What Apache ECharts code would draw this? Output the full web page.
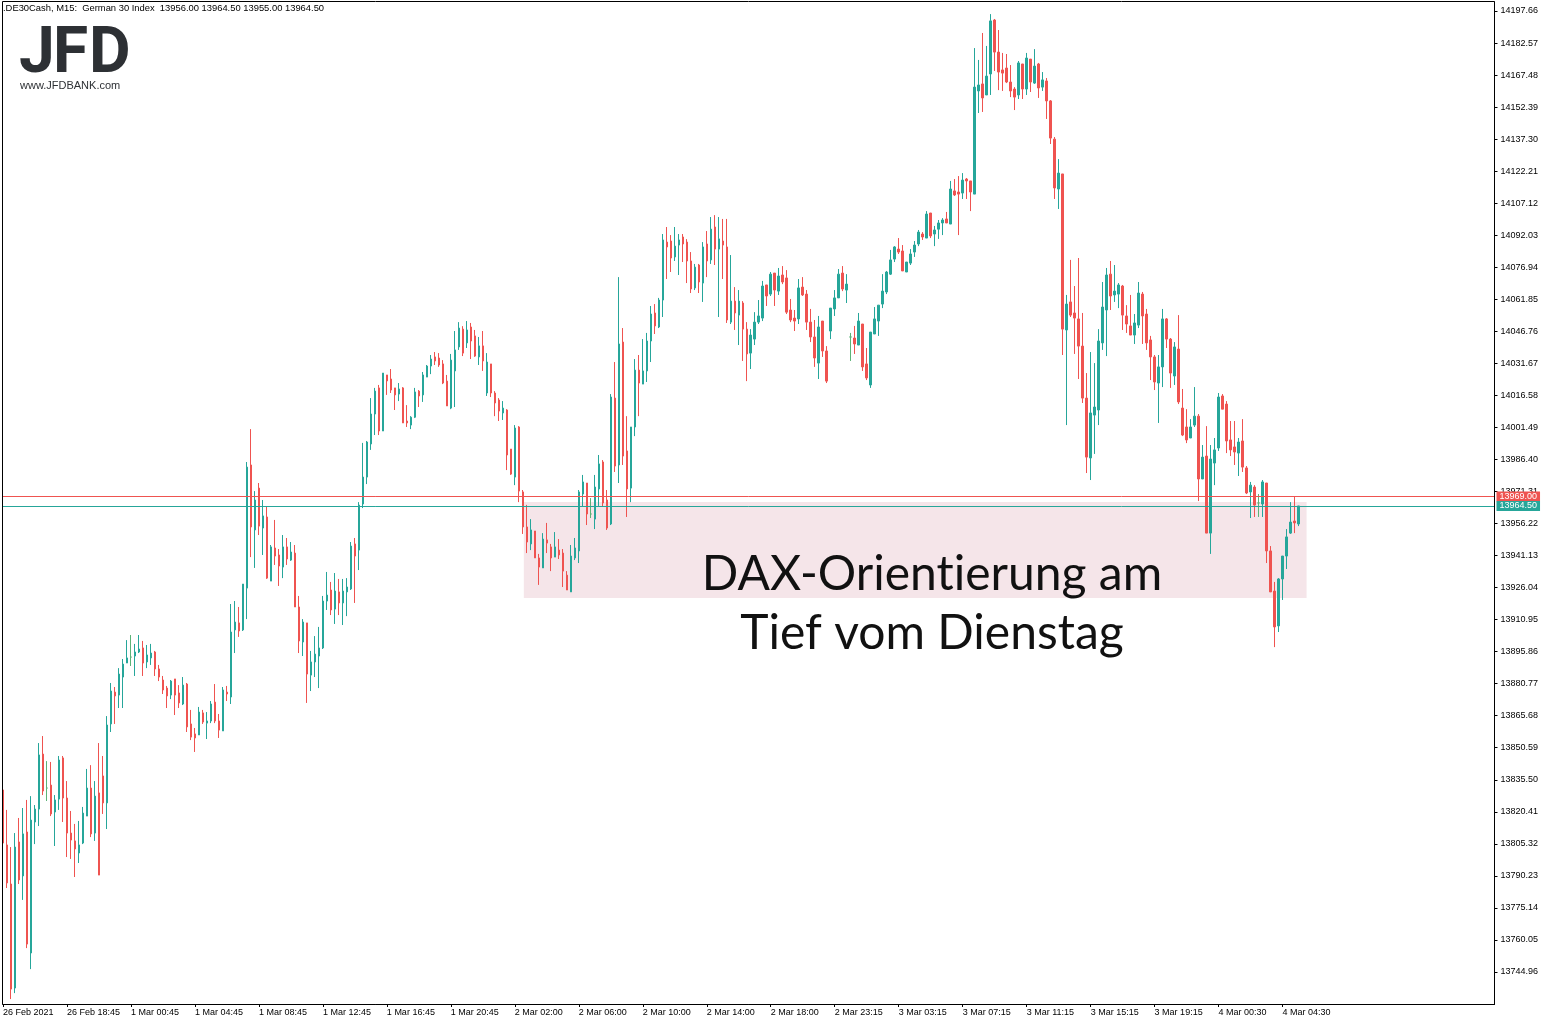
<!DOCTYPE html>
<html><head><meta charset="utf-8">
<script src="https://cdn.jsdelivr.net/npm/echarts@6/dist/echarts.min.js"></script>
<style>html,body{margin:0;padding:0;background:#fff;}#c{width:1552px;height:1025px;}</style>
</head><body><div id="c"></div>
<script>
const tickLabels = ["26 Feb 2021","26 Feb 18:45","1 Mar 00:45","1 Mar 04:45","1 Mar 08:45","1 Mar 12:45","1 Mar 16:45","1 Mar 20:45","2 Mar 02:00","2 Mar 06:00","2 Mar 10:00","2 Mar 14:00","2 Mar 18:00","2 Mar 23:15","3 Mar 03:15","3 Mar 07:15","3 Mar 11:15","3 Mar 15:15","3 Mar 19:15","4 Mar 00:30","4 Mar 04:30"];

const opens = [
13830.7,13804.8,13786.4,13737.4,13806.2,13790.2,13810.9,13753.9,13815.6,13821.7,
13847.6,13831.6,13833.0,13820.3,13826.4,13845.8,13826.9,13810.4,13806.7,13801.0,
13805.7,13818.4,13831.6,13810.4,13829.3,13837.3,13824.6,13861.8,13876.8,13875.4,
13883.9,13890.5,13893.3,13893.8,13895.7,13897.6,13891.0,13892.9,13895.7,13887.7,
13882.5,13878.7,13875.4,13883.0,13876.4,13871.2,13880.6,13861.8,13857.1,13856.6,
13867.0,13862.2,13863.2,13872.1,13863.2,13858.5,13876.8,13874.5,13906.1,13909.4,
13906.1,13925.8,13983.8,13953.2,13972.9,13954.1,13959.3,13929.1,13944.7,13941.4,
13935.7,13945.2,13939.0,13942.3,13916.9,13900.4,13909.4,13884.8,13891.0,13893.8,
13897.6,13919.7,13924.9,13915.9,13924.0,13918.8,13924.0,13925.4,13946.6,13943.7,
13965.4,13978.1,13993.7,14007.8,14020.1,13999.8,14026.2,14024.3,14020.1,14017.2,
14020.1,14004.5,14002.6,14006.3,14018.6,14016.8,14025.2,14030.4,14034.7,14034.2,
14031.4,14023.3,14010.6,14028.1,14039.4,14047.8,14041.3,14048.8,14044.6,14034.7,
14039.9,14017.7,14031.4,14017.7,14014.4,14008.3,14009.7,13991.3,13978.1,14001.7,
13971.1,13954.6,13946.6,13952.7,13940.0,13935.3,13948.5,13945.2,13940.4,13943.7,
13942.3,13931.9,13924.0,13940.0,13943.3,13970.1,13975.3,13960.7,13958.3,13972.5,
13985.2,13967.3,13956.0,14015.3,13983.8,14041.7,13990.4,13972.9,14001.7,14028.5,
14021.9,14028.1,14042.2,14055.4,14048.8,14061.5,14088.8,14089.3,14081.8,14087.4,
14091.2,14088.8,14079.9,14067.2,14078.0,14069.5,14087.9,14080.4,14095.9,14085.5,
14089.3,14086.5,14051.1,14061.0,14054.4,14060.1,14047.8,14036.5,14043.1,14051.1,
14053.0,14068.6,14064.3,14074.2,14065.7,14073.3,14071.9,14056.8,14053.0,14052.6,
14067.6,14064.3,14051.1,14044.1,14031.8,14051.6,14037.5,14046.9,14057.3,14062.5,
14074.2,14066.2,14044.1,14043.6,14040.3,14050.2,14031.4,14021.5,14045.5,14051.6,
14059.6,14065.3,14073.7,14080.8,14085.5,14084.6,14074.7,14078.9,14084.1,14087.9,
14092.6,14090.7,14102.5,14092.6,14094.9,14097.8,14099.7,14097.3,14112.9,14112.4,
14111.9,14118.5,14117.6,14111.4,14160.0,14163.3,14158.1,14168.0,14193.4,14178.3,
14169.9,14170.8,14164.2,14160.9,14158.1,14172.7,14160.9,14175.0,14163.7,14172.7,
14161.8,14164.7,14155.3,14137.3,14113.8,14120.9,14047.4,14060.6,14055.4,14052.6,
14039.8,14015.3,13987.1,14007.3,14009.7,14041.3,14056.8,14073.7,14063.9,14064.3,
14068.1,14054.0,14049.3,14045.0,14049.7,14064.3,14054.9,14042.7,14034.7,14022.4,
14030.0,14052.6,14043.1,14025.7,14038.4,14010.6,14001.7,13996.5,14002.6,14006.8,
13977.2,13988.0,13951.7,13984.7,13991.8,14016.3,14012.5,13995.6,13992.3,13989.4,
13995.1,13982.4,13971.1,13973.4,13965.9,13965.4,13975.3,13943.3,13924.4,13908.0,
13930.1,13940.9,13951.7,13957.4,13956.0];

const closes = [
13805.7,13786.9,13736.9,13803.8,13788.3,13810.0,13758.1,13816.5,13821.7,13847.2,
13830.2,13831.6,13819.4,13826.0,13844.8,13826.9,13810.4,13807.1,13802.9,13804.8,
13819.8,13831.6,13810.0,13827.8,13790.6,13824.6,13861.3,13877.3,13875.0,13885.3,
13890.0,13892.9,13893.3,13895.7,13897.1,13890.5,13894.3,13895.2,13887.7,13883.9,
13877.8,13875.0,13882.0,13875.4,13871.7,13880.1,13860.4,13855.6,13855.2,13867.4,
13862.7,13863.2,13871.2,13863.2,13858.9,13877.8,13875.9,13905.1,13909.8,13905.6,
13927.7,13982.8,13954.6,13967.3,13955.0,13959.8,13930.5,13945.2,13940.9,13936.2,
13945.2,13939.5,13942.8,13916.9,13900.9,13909.8,13885.3,13891.0,13894.7,13897.6,
13919.7,13922.5,13915.5,13924.4,13918.8,13924.4,13926.3,13945.6,13940.9,13964.9,
13978.1,13994.6,14007.8,14018.6,13999.8,14027.1,14023.4,14019.1,14016.8,14019.6,
14003.6,14003.6,14006.3,14018.2,14016.3,14026.2,14030.4,14033.7,14032.8,14030.9,
14022.4,14011.6,14033.2,14038.0,14048.3,14036.5,14047.4,14042.2,14035.1,14039.9,
14032.8,14032.3,14017.7,14013.0,14009.2,14010.6,13988.5,13979.5,14001.2,13971.5,
13954.6,13947.5,13953.2,13940.0,13935.7,13948.9,13947.0,13940.0,13945.2,13941.4,
13933.8,13924.9,13940.9,13944.7,13971.1,13975.8,13960.7,13960.7,13973.4,13984.3,
13965.9,13954.1,14015.8,13983.3,14040.8,13988.0,13972.5,14001.7,14028.5,14022.4,
14028.1,14042.2,14054.9,14049.3,14061.5,14089.8,14086.5,14081.3,14086.9,14089.8,
14087.9,14079.9,14066.7,14077.0,14070.0,14086.5,14079.9,14094.9,14085.5,14090.3,
14087.4,14052.1,14061.0,14055.4,14061.0,14047.8,14036.1,14045.0,14051.1,14054.0,
14068.1,14063.4,14073.7,14066.2,14072.8,14070.0,14055.8,14052.1,14051.6,14067.2,
14063.9,14051.1,14044.1,14034.2,14048.8,14037.5,14023.3,14057.7,14062.5,14073.7,
14066.7,14069.0,14044.1,14040.8,14051.6,14030.0,14024.8,14046.4,14052.6,14059.1,
14065.7,14074.7,14080.4,14086.5,14084.1,14075.2,14079.4,14083.2,14087.4,14093.5,
14091.2,14102.0,14091.7,14094.5,14097.8,14099.2,14097.8,14113.8,14111.0,14111.4,
14118.0,14117.6,14112.4,14161.8,14162.8,14156.7,14167.0,14193.0,14178.3,14168.9,
14168.4,14164.2,14160.0,14157.1,14173.2,14160.9,14175.5,14164.2,14171.7,14161.4,
14165.2,14155.3,14137.8,14114.3,14121.3,14047.8,14059.6,14054.4,14053.0,14039.8,
14015.3,13987.5,14008.3,14011.1,14042.2,14058.2,14073.3,14063.4,14065.7,14068.6,
14054.4,14050.2,14045.0,14050.7,14064.8,14054.0,14041.3,14034.7,14022.9,14030.0,
14052.6,14043.1,14027.1,14039.4,14013.5,13997.9,13995.6,14001.7,14006.8,13977.2,
13987.5,13951.7,13986.6,13990.9,14015.8,14010.1,13995.1,13990.9,13989.9,13994.6,
13982.8,13970.6,13974.3,13964.9,13965.9,13975.8,13943.3,13924.0,13907.5,13930.1,
13940.9,13949.9,13956.9,13956.5,13964.5];

const lows = [
13804.8,13784.5,13732.2,13735.0,13786.4,13778.9,13756.2,13746.3,13805.2,13813.7,
13828.3,13825.5,13818.4,13804.3,13821.3,13815.6,13799.1,13798.2,13789.7,13796.3,
13805.2,13818.4,13808.5,13806.7,13790.6,13819.4,13812.3,13858.0,13861.8,13869.3,
13869.3,13890.5,13889.1,13884.4,13895.2,13884.4,13888.1,13889.6,13884.4,13882.0,
13875.9,13869.3,13873.5,13866.0,13869.3,13870.7,13858.0,13854.2,13848.6,13856.6,
13861.8,13854.7,13862.2,13862.2,13855.2,13858.5,13872.6,13871.2,13895.2,13902.8,
13905.6,13911.2,13940.4,13935.3,13950.8,13941.4,13930.1,13929.1,13936.7,13926.8,
13930.5,13936.7,13938.6,13916.9,13895.2,13893.8,13871.7,13877.3,13883.9,13878.7,
13897.1,13915.5,13913.1,13908.9,13913.1,13908.4,13912.6,13924.9,13918.8,13934.3,
13963.5,13974.8,13990.9,13997.9,13997.9,13999.8,14016.8,14017.7,14009.7,14013.9,
14003.6,14001.7,14000.7,14005.9,14011.1,14013.5,14025.2,14026.6,14030.9,14030.0,
14021.9,14011.6,14010.1,14011.1,14038.0,14035.1,14038.9,14033.7,14034.7,14030.9,
14028.1,14016.3,14015.8,14006.8,14004.5,14005.0,13981.4,13979.1,13974.3,13966.3,
13951.3,13942.3,13943.7,13940.0,13927.3,13935.3,13942.3,13933.8,13940.4,13939.5,
13926.3,13924.9,13924.0,13939.0,13937.6,13964.0,13955.5,13958.8,13953.6,13964.5,
13964.0,13953.2,13955.5,13980.5,13975.3,13983.8,13959.3,13966.3,13997.4,14006.8,
14021.9,14022.9,14032.3,14045.5,14048.3,14053.5,14071.4,14074.7,14079.9,14073.3,
14079.4,14069.5,14064.8,14066.2,14064.8,14060.6,14072.3,14078.5,14078.0,14053.5,
14071.4,14050.7,14050.2,14047.4,14040.3,14032.8,14023.3,14029.0,14040.3,14050.2,
14051.6,14058.7,14063.4,14058.7,14063.9,14069.0,14054.9,14051.1,14046.9,14050.2,
14063.4,14047.4,14041.7,14030.0,14024.3,14034.7,14022.4,14043.1,14054.0,14062.5,
14065.7,14060.1,14032.8,14036.1,14040.3,14028.1,14023.8,14020.1,14045.5,14044.6,
14057.7,14064.3,14073.3,14079.4,14083.2,14075.2,14074.7,14078.0,14081.8,14086.9,
14089.8,14090.7,14090.7,14086.9,14090.3,14092.1,14097.8,14097.3,14110.5,14092.1,
14109.1,14109.1,14103.4,14111.4,14149.6,14150.1,14158.1,14158.1,14169.4,14160.4,
14160.0,14163.7,14157.1,14151.0,14156.2,14156.2,14158.1,14159.5,14163.3,14156.7,
14160.0,14146.8,14135.0,14109.1,14104.4,14035.6,14002.6,14053.5,14036.1,14024.3,
14013.0,13980.0,13976.7,13989.0,14002.6,14038.0,14035.1,14056.8,14060.6,14057.7,
14047.4,14046.0,14045.0,14040.8,14048.3,14040.8,14038.0,14023.8,14019.1,14003.6,
14020.5,14038.9,14020.1,14021.5,14012.5,13997.4,13994.1,13996.5,14001.7,13966.8,
13977.2,13951.7,13941.9,13974.3,13990.4,14010.1,13989.4,13988.0,13983.8,13978.6,
13980.5,13970.1,13958.8,13959.3,13959.3,13959.3,13937.6,13924.0,13898.0,13905.1,
13920.2,13934.8,13951.3,13951.7,13955.0];

const highs = [
13834.0,13821.3,13803.8,13810.4,13817.5,13822.2,13826.0,13827.8,13823.6,13852.8,
13856.1,13844.3,13843.9,13828.3,13846.7,13846.7,13834.9,13820.8,13814.7,13816.1,
13822.7,13840.6,13842.4,13834.9,13852.8,13846.7,13865.5,13881.1,13879.2,13888.1,
13892.4,13901.3,13903.7,13899.5,13903.7,13900.9,13899.0,13899.5,13896.2,13889.6,
13884.4,13879.7,13882.5,13883.0,13880.1,13883.9,13881.1,13868.4,13859.9,13869.8,
13868.4,13867.4,13872.6,13880.6,13866.5,13879.2,13879.7,13918.3,13919.7,13916.9,
13927.7,13985.2,14000.7,13971.5,13975.3,13967.3,13964.0,13946.1,13957.9,13944.2,
13950.8,13949.4,13947.5,13946.1,13922.1,13911.2,13909.4,13896.2,13903.2,13907.5,
13922.1,13933.4,13928.7,13932.9,13930.1,13930.1,13930.5,13947.5,13949.4,13966.3,
13994.2,13995.1,14015.3,14020.1,14021.5,14027.1,14026.2,14029.0,14020.1,14022.4,
14020.5,14012.0,14006.8,14020.1,14019.1,14027.6,14030.9,14035.6,14037.0,14036.5,
14033.2,14026.2,14036.1,14046.9,14051.1,14049.2,14051.6,14050.7,14047.4,14044.1,
14046.9,14036.5,14031.4,14018.6,14015.3,14013.9,14010.1,13991.3,14002.6,14002.1,
13972.0,13965.0,13958.3,13952.7,13941.9,13951.7,13956.5,13946.6,13952.2,13948.9,
13944.2,13933.8,13946.1,13949.4,13972.0,13979.1,13975.3,13968.2,13979.1,13988.5,
13986.1,13972.0,14017.2,14032.3,14072.3,14048.3,14006.8,14001.7,14033.7,14035.6,
14043.1,14046.0,14058.7,14059.6,14062.5,14092.6,14095.9,14092.1,14095.9,14092.6,
14092.6,14090.2,14084.1,14078.5,14078.5,14088.8,14094.0,14100.6,14101.5,14100.6,
14099.7,14099.7,14082.7,14067.6,14066.2,14061.0,14051.1,14047.8,14055.8,14061.5,
14070.5,14068.6,14074.7,14074.2,14076.6,14077.5,14075.6,14062.0,14056.8,14071.4,
14072.3,14066.2,14057.3,14052.1,14054.0,14051.6,14039.8,14057.7,14066.2,14076.1,
14077.5,14073.7,14046.0,14049.3,14055.4,14050.2,14038.9,14046.4,14058.2,14059.1,
14073.7,14075.2,14085.1,14086.9,14090.7,14087.4,14079.4,14085.5,14089.3,14094.5,
14093.5,14103.4,14102.5,14096.4,14099.2,14100.1,14103.0,14117.6,14118.5,14119.9,
14121.3,14119.0,14117.6,14180.2,14174.6,14187.3,14181.2,14196.2,14193.9,14188.7,
14177.9,14177.4,14172.2,14161.8,14174.1,14172.7,14177.9,14175.0,14179.7,14173.2,
14168.9,14166.1,14155.7,14138.3,14127.9,14120.9,14063.9,14080.4,14068.1,14081.3,
14055.4,14027.1,14037.0,14031.8,14047.8,14070.0,14076.6,14079.9,14078.0,14069.5,
14068.6,14059.1,14063.9,14054.9,14070.0,14065.3,14057.3,14044.6,14035.6,14035.6,
14057.3,14053.0,14043.6,14041.7,14054.4,14019.6,14010.1,14005.4,14020.5,14007.8,
13993.2,14002.1,13993.2,13996.5,14017.7,14017.2,14013.9,14004.5,14004.5,13996.5,
14005.4,13983.3,13975.8,13974.3,13970.1,13976.7,13975.3,13945.6,13928.7,13930.5,
13940.9,13953.6,13966.3,13968.7,13964.5];

const askPrice = 13969.00;
const bidPrice = 13964.50;
const zoneStartIdx = 130.25, zoneEndIdx = 326, zoneTop = 13966.35, zoneBottom = 13921.1;
const yMin = 13729.87, yMax = 14201.9, yStep = 15.09;
const headerText = ".DE30Cash, M15:  German 30 Index  13956.00 13964.50 13955.00 13964.50";
const noteLines = ["DAX-Orient\u200Cierung am", "Tief vom Dienstag"];

const SLOTS = 374;
const LABEL_EVERY = 16;
const categories = Array.from({length: SLOTS}, (_, i) =>
  (i % LABEL_EVERY === 0 && i / LABEL_EVERY < tickLabels.length) ? tickLabels[i / LABEL_EVERY] : '');
const labelled = i => i % LABEL_EVERY === 0 && i / LABEL_EVERY < tickLabels.length;

const UP = '#26a69a', DOWN = '#ef5350', DOJI = '#5cb377';
const candleData = opens.map((o, i) => {
  const item = { value: [o, closes[i], lows[i], highs[i]] };
  if (o === closes[i]) item.itemStyle = { color: DOJI, borderColor: DOJI, color0: DOJI, borderColor0: DOJI };
  return item;
});

const chart = echarts.init(document.getElementById('c'), null, {renderer: 'canvas'});
const axisFont = 'Liberation Sans';
chart.setOption({
  animation: false,
  backgroundColor: '#ffffff',
  grid: { left: 2.5, top: 2, width: 1492, height: 1002, show: false },
  xAxis: [{
    type: 'category', data: categories, boundaryGap: false,
    axisLine: { show: true, onZero: false, lineStyle: { color: '#000', width: 1 } },
    axisTick: { show: true, interval: (i) => labelled(i), length: 3, lineStyle: { color: '#000' } },
    axisLabel: { interval: (i) => labelled(i), align: 'left', fontSize: 9, color: '#000', margin: 4, fontFamily: axisFont },
    splitLine: { show: false }
  }, {
    type: 'value', min: 0, max: SLOTS - 1, show: false, gridIndex: 0
  }],
  yAxis: [{
    type: 'value', position: 'right', min: yMin, max: yMax, interval: yStep, scale: true,
    axisLine: { show: true, onZero: false, lineStyle: { color: '#000', width: 1 } },
    axisTick: { show: true, length: 3, lineStyle: { color: '#000' } },
    axisLabel: { fontSize: 9, color: '#000', margin: 6, fontFamily: axisFont,
      showMinLabel: false, showMaxLabel: false, formatter: v => v.toFixed(2) },
    splitLine: { show: false }
  }],
  series: [{
    type: 'candlestick', xAxisIndex: 0, yAxisIndex: 0, barWidth: 2, clip: true,
    itemStyle: { color: UP, color0: DOWN, borderColor: UP, borderColor0: DOWN, borderWidth: 1 },
    data: candleData,
    markLine: {
      silent: true, symbol: ['none', 'none'], animation: false,
      data: [
        { yAxis: askPrice, lineStyle: { color: DOWN, width: 1, type: 'solid' },
          label: { show: true, position: 'end', distance: 2, formatter: p => p.value.toFixed(2),
            color: '#fff', backgroundColor: DOWN, padding: [1, 3, 0, 3], fontSize: 9, fontFamily: axisFont } },
        { yAxis: bidPrice, lineStyle: { color: UP, width: 1, type: 'solid' },
          label: { show: true, position: 'end', distance: 2, formatter: p => p.value.toFixed(2),
            color: '#fff', backgroundColor: UP, padding: [1, 3, 0, 3], fontSize: 9, fontFamily: axisFont } }
      ]
    }
  }, {
    type: 'line', xAxisIndex: 1, yAxisIndex: 0, data: [], silent: true,
    markArea: {
      silent: true,
      itemStyle: { color: 'rgba(225,175,188,0.32)' },
      data: [[{ coord: [zoneStartIdx, zoneTop] }, { coord: [zoneEndIdx, zoneBottom] }]]
    }
  }],
  graphic: [
    { type: 'rect', shape: { x: 2.5, y: 1.5, width: 1492, height: 1003 }, style: { fill: null, stroke: '#000', lineWidth: 1 }, silent: true, z: 10 },
    { type: 'text', x: 3, y: 4, style: { text: headerText, font: '9.4px "Liberation Sans"', fill: '#000' }, z: 10 },
    { type: 'text', x: 19, y: 24, style: { text: 'J', font: 'bold 64px Roboto', fill: '#2d3034' }, z: 10 },
    { type: 'text', x: 53, y: 24, style: { text: 'F', font: 'bold 64px Roboto', fill: '#2d3034' }, z: 10 },
    { type: 'text', x: 89, y: 24, style: { text: 'D', font: 'bold 64px Roboto', fill: '#2d3034' }, z: 10 },
    { type: 'text', x: 20, y: 80, style: { text: 'www.JFDBANK.com', font: '11px "Liberation Sans"', fill: '#2d3034' }, z: 10 },
    { type: 'text', x: 932, y: 551, style: { text: noteLines[0], font: '48px Lato', fill: '#111', align: 'center' }, z: 10 },
    { type: 'text', x: 932, y: 610, style: { text: noteLines[1], font: '48px Lato', fill: '#111', align: 'center' }, z: 10 }
  ]
});
</script>
</body></html>
